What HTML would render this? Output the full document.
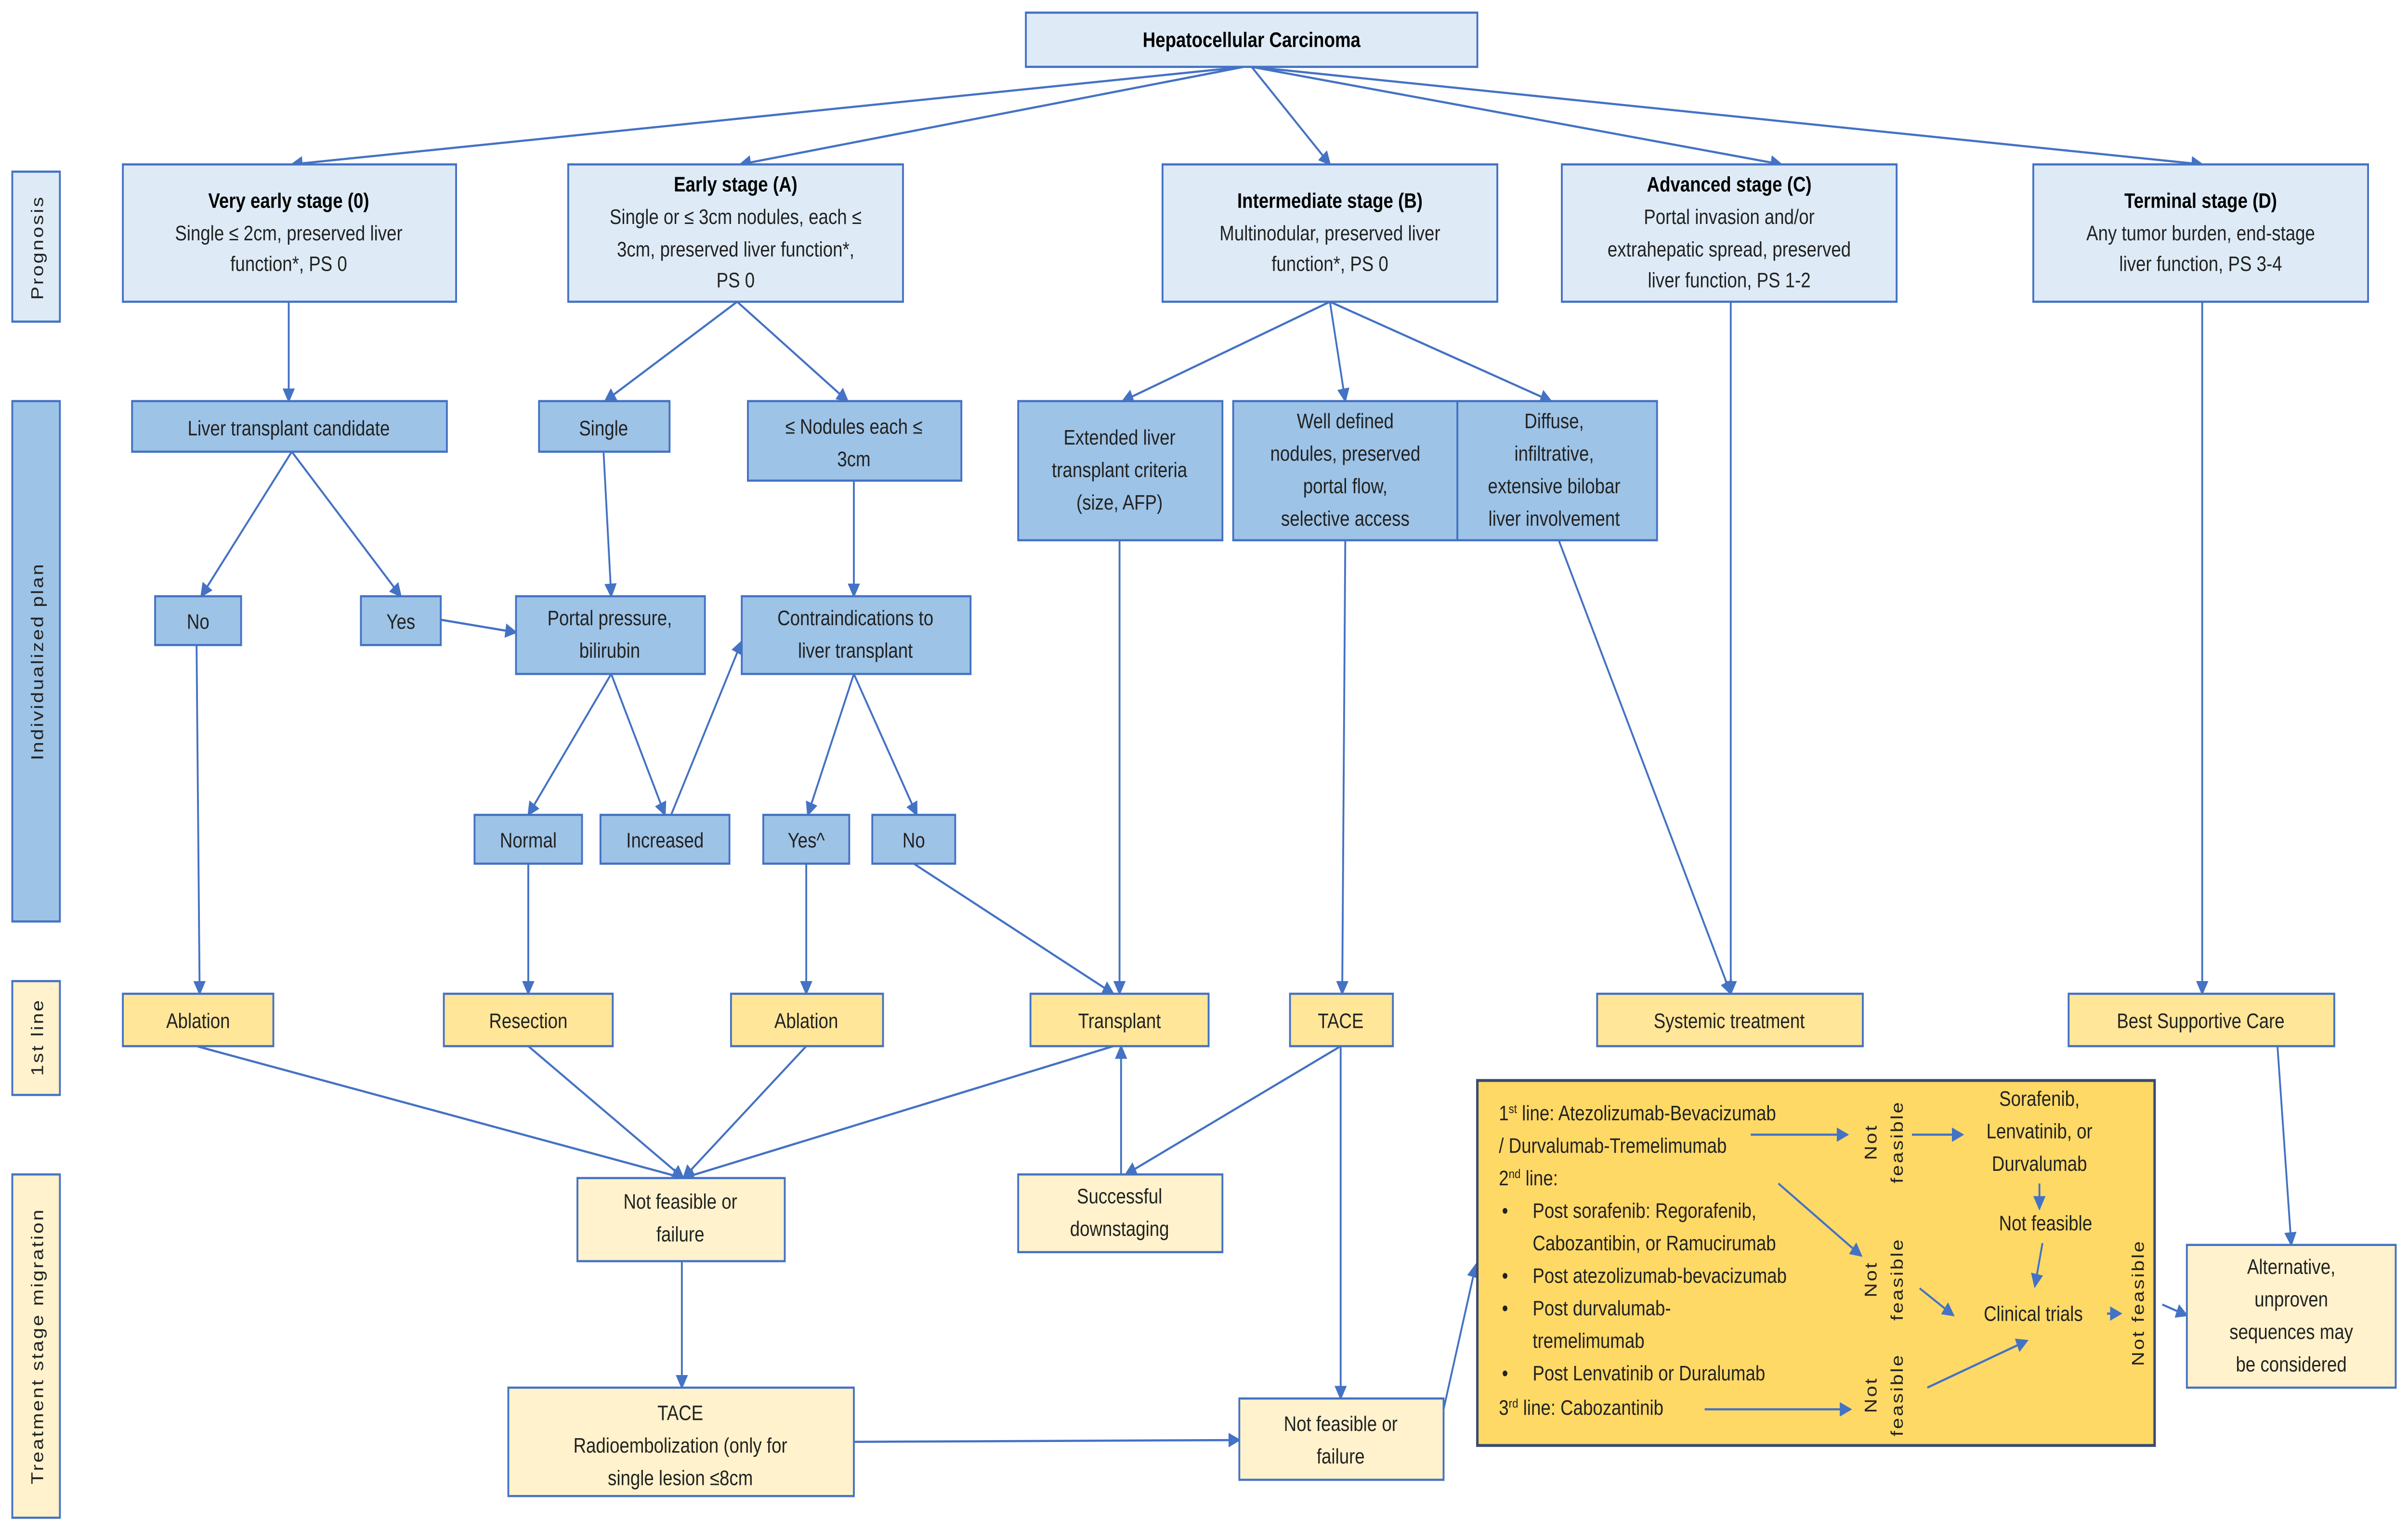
<!DOCTYPE html>
<html><head><meta charset="utf-8"><style>
html,body{margin:0;padding:0;background:#fff;width:100%;height:100%;overflow:hidden;}
svg{display:block;width:100vw;height:100vh;}
text{font-family:"Liberation Sans",sans-serif;font-size:11.5px;fill:#222;}
.b{font-weight:bold;fill:#000;}
.lb{fill:#DEEBF7;stroke:#4472C4;stroke-width:1.2;}
.mb{fill:#9DC3E6;stroke:#4472C4;stroke-width:1.2;}
.ly{fill:#FFF2CC;stroke:#4472C4;stroke-width:1.2;}
.y{fill:#FFE699;stroke:#4472C4;stroke-width:1.2;}
.big{fill:#FFD966;stroke:#3a4a70;stroke-width:1.6;}
line,path.c{stroke:#4472C4;stroke-width:1.2;fill:none;}
.v{font-family:"Liberation Sans",sans-serif;font-size:11px;letter-spacing:1px;}
</style></head><body>
<svg viewBox="0 0 1568 849" preserveAspectRatio="none" xmlns="http://www.w3.org/2000/svg">
<defs><marker id="a" markerWidth="8" markerHeight="8" refX="7" refY="4" orient="auto" markerUnits="userSpaceOnUse"><path d="M0,0 L8,4 L0,8 z" fill="#4472C4"/></marker></defs>

<rect class="lb" x="8" y="95" width="31" height="83"/>
<text class="v" transform="translate(28,137) rotate(-90)" text-anchor="middle">Prognosis</text>
<rect class="mb" x="8" y="222" width="31" height="288"/>
<text class="v" transform="translate(28,366) rotate(-90)" text-anchor="middle">Individualized plan</text>
<rect class="ly" x="8" y="543" width="31" height="63"/>
<text class="v" transform="translate(28,574) rotate(-90)" text-anchor="middle">1st line</text>
<rect class="ly" x="8" y="650" width="31" height="190"/>
<text class="v" transform="translate(28,745) rotate(-90)" text-anchor="middle">Treatment stage migration</text>

<g marker-end="url(#a)">
<line x1="810" y1="37" x2="190" y2="91"/>
<line x1="810" y1="37" x2="482" y2="91"/>
<line x1="815" y1="37" x2="866" y2="91"/>
<line x1="815" y1="37" x2="1160" y2="91"/>
<line x1="815" y1="37" x2="1434" y2="91"/>
<line x1="188" y1="167" x2="188" y2="222"/>
<line x1="190" y1="250" x2="131" y2="330"/>
<line x1="190" y1="250" x2="261" y2="330"/>
<line x1="287" y1="343" x2="336" y2="350"/>
<line x1="128" y1="357" x2="130" y2="550"/>
<line x1="480" y1="167" x2="394" y2="222"/>
<line x1="480" y1="167" x2="552" y2="222"/>
<line x1="393" y1="250" x2="398" y2="330"/>
<line x1="556" y1="266" x2="556" y2="330"/>
<line x1="398" y1="373" x2="344" y2="451"/>
<line x1="398" y1="373" x2="433" y2="451"/>
<line x1="437" y1="451" x2="483" y2="355"/>
<line x1="556" y1="373" x2="526" y2="451"/>
<line x1="556" y1="373" x2="597" y2="451"/>
<line x1="344" y1="478" x2="344" y2="550"/>
<line x1="525" y1="478" x2="525" y2="550"/>
<line x1="595" y1="478" x2="725" y2="550"/>
<line x1="866" y1="167" x2="731" y2="222"/>
<line x1="866" y1="167" x2="876" y2="222"/>
<line x1="866" y1="167" x2="1010" y2="222"/>
<line x1="729" y1="299" x2="729" y2="550"/>
<line x1="876" y1="299" x2="874" y2="550"/>
<line x1="1015" y1="299" x2="1127" y2="550"/>
<line x1="1127" y1="167" x2="1127" y2="550"/>
<line x1="1434" y1="167" x2="1434" y2="550"/>
<line x1="128" y1="579" x2="445" y2="652"/>
<line x1="344" y1="579" x2="445" y2="652"/>
<line x1="525" y1="579" x2="445" y2="652"/>
<line x1="725" y1="579" x2="445" y2="652"/>
<line x1="873" y1="579" x2="733" y2="650"/>
<line x1="730" y1="650" x2="730" y2="579"/>
<line x1="444" y1="698" x2="444" y2="768"/>
<line x1="556" y1="798" x2="807" y2="797"/>
<line x1="873" y1="579" x2="873" y2="774"/>
<line x1="940" y1="780" x2="961" y2="700"/>
<line x1="1483" y1="579" x2="1492" y2="689"/>
<line x1="1408" y1="722" x2="1424" y2="728"/>
</g>

<rect class="lb" x="668" y="7" width="294" height="30"/>
<text class="b" x="815" y="26" text-anchor="middle">Hepatocellular Carcinoma</text>

<rect class="lb" x="80" y="91" width="217" height="76"/>
<text text-anchor="middle" x="188"><tspan class="b" y="115">Very early stage (0)</tspan><tspan x="188" y="133">Single ≤ 2cm, preserved liver</tspan><tspan x="188" y="150">function*, PS 0</tspan></text>
<rect class="lb" x="370" y="91" width="218" height="76"/>
<text text-anchor="middle" x="479"><tspan class="b" y="106">Early stage (A)</tspan><tspan x="479" y="124">Single or ≤ 3cm nodules, each ≤</tspan><tspan x="479" y="142">3cm, preserved liver function*,</tspan><tspan x="479" y="159">PS 0</tspan></text>
<rect class="lb" x="757" y="91" width="218" height="76"/>
<text text-anchor="middle" x="866"><tspan class="b" y="115">Intermediate stage (B)</tspan><tspan x="866" y="133">Multinodular, preserved liver</tspan><tspan x="866" y="150">function*, PS 0</tspan></text>
<rect class="lb" x="1017" y="91" width="218" height="76"/>
<text text-anchor="middle" x="1126"><tspan class="b" y="106">Advanced stage (C)</tspan><tspan x="1126" y="124">Portal invasion and/or</tspan><tspan x="1126" y="142">extrahepatic spread, preserved</tspan><tspan x="1126" y="159">liver function, PS 1-2</tspan></text>
<rect class="lb" x="1324" y="91" width="218" height="76"/>
<text text-anchor="middle" x="1433"><tspan class="b" y="115">Terminal stage (D)</tspan><tspan x="1433" y="133">Any tumor burden, end-stage</tspan><tspan x="1433" y="150">liver function, PS 3-4</tspan></text>

<rect class="mb" x="86" y="222" width="205" height="28"/><text x="188" y="241" text-anchor="middle">Liver transplant candidate</text>
<rect class="mb" x="351" y="222" width="85" height="28"/><text x="393" y="241" text-anchor="middle">Single</text>
<rect class="mb" x="487" y="222" width="139" height="44"/><text text-anchor="middle" x="556"><tspan y="240">≤ Nodules each ≤</tspan><tspan x="556" y="258">3cm</tspan></text>
<rect class="mb" x="663" y="222" width="133" height="77"/><text text-anchor="middle" x="729"><tspan y="246">Extended liver</tspan><tspan x="729" y="264">transplant criteria</tspan><tspan x="729" y="282">(size, AFP)</tspan></text>
<rect class="mb" x="803" y="222" width="146" height="77"/><text text-anchor="middle" x="876"><tspan y="237">Well defined</tspan><tspan x="876" y="255">nodules, preserved</tspan><tspan x="876" y="273">portal flow,</tspan><tspan x="876" y="291">selective access</tspan></text>
<rect class="mb" x="949" y="222" width="130" height="77"/><text text-anchor="middle" x="1012"><tspan y="237">Diffuse,</tspan><tspan x="1012" y="255">infiltrative,</tspan><tspan x="1012" y="273">extensive bilobar</tspan><tspan x="1012" y="291">liver involvement</tspan></text>

<rect class="mb" x="101" y="330" width="56" height="27"/><text x="129" y="348" text-anchor="middle">No</text>
<rect class="mb" x="235" y="330" width="52" height="27"/><text x="261" y="348" text-anchor="middle">Yes</text>
<rect class="mb" x="336" y="330" width="123" height="43"/><text text-anchor="middle" x="397"><tspan y="346">Portal pressure,</tspan><tspan x="397" y="364">bilirubin</tspan></text>
<rect class="mb" x="483" y="330" width="149" height="43"/><text text-anchor="middle" x="557"><tspan y="346">Contraindications to</tspan><tspan x="557" y="364">liver transplant</tspan></text>

<rect class="mb" x="309" y="451" width="70" height="27"/><text x="344" y="469" text-anchor="middle">Normal</text>
<rect class="mb" x="391" y="451" width="84" height="27"/><text x="433" y="469" text-anchor="middle">Increased</text>
<rect class="mb" x="497" y="451" width="56" height="27"/><text x="525" y="469" text-anchor="middle">Yes^</text>
<rect class="mb" x="568" y="451" width="54" height="27"/><text x="595" y="469" text-anchor="middle">No</text>

<rect class="y" x="80" y="550" width="98" height="29"/><text x="129" y="569" text-anchor="middle">Ablation</text>
<rect class="y" x="289" y="550" width="110" height="29"/><text x="344" y="569" text-anchor="middle">Resection</text>
<rect class="y" x="476" y="550" width="99" height="29"/><text x="525" y="569" text-anchor="middle">Ablation</text>
<rect class="y" x="671" y="550" width="116" height="29"/><text x="729" y="569" text-anchor="middle">Transplant</text>
<rect class="y" x="840" y="550" width="67" height="29"/><text x="873" y="569" text-anchor="middle">TACE</text>
<rect class="y" x="1040" y="550" width="173" height="29"/><text x="1126" y="569" text-anchor="middle">Systemic treatment</text>
<rect class="y" x="1347" y="550" width="173" height="29"/><text x="1433" y="569" text-anchor="middle">Best Supportive Care</text>

<rect class="ly" x="376" y="652" width="135" height="46"/><text text-anchor="middle" x="443"><tspan y="669">Not feasible or</tspan><tspan x="443" y="687">failure</tspan></text>
<rect class="ly" x="663" y="650" width="133" height="43"/><text text-anchor="middle" x="729"><tspan y="666">Successful</tspan><tspan x="729" y="684">downstaging</tspan></text>
<rect class="ly" x="331" y="768" width="225" height="60"/><text text-anchor="middle" x="443"><tspan y="786">TACE</tspan><tspan x="443" y="804">Radioembolization (only for</tspan><tspan x="443" y="822">single lesion ≤8cm</tspan></text>
<rect class="ly" x="807" y="774" width="133" height="45"/><text text-anchor="middle" x="873"><tspan y="792">Not feasible or</tspan><tspan x="873" y="810">failure</tspan></text>
<rect class="ly" x="1424" y="689" width="136" height="79"/><text text-anchor="middle" x="1492"><tspan y="705">Alternative,</tspan><tspan x="1492" y="723">unproven</tspan><tspan x="1492" y="741">sequences may</tspan><tspan x="1492" y="759">be considered</tspan></text>

<rect class="big" x="962" y="598" width="441" height="202"/>
<g marker-end="url(#a)">
<line x1="1140" y1="628" x2="1203" y2="628"/>
<line x1="1245" y1="628" x2="1278" y2="628"/>
<line x1="1328" y1="655" x2="1328" y2="669"/>
<line x1="1330" y1="688" x2="1325" y2="712"/>
<line x1="1158" y1="655" x2="1212" y2="695"/>
<line x1="1250" y1="713" x2="1272" y2="728"/>
<line x1="1110" y1="780" x2="1205" y2="780"/>
<line x1="1255" y1="768" x2="1320" y2="742"/>
<line x1="1372" y1="727" x2="1381" y2="727"/>
</g>
<text x="976" y="620">1<tspan font-size="7" dy="-4">st</tspan><tspan dy="4"> line: Atezolizumab-Bevacizumab</tspan></text>
<text x="976" y="638">/ Durvalumab-Tremelimumab</text>
<text x="976" y="656">2<tspan font-size="7" dy="-4">nd</tspan><tspan dy="4"> line:</tspan></text>
<text x="978" y="674">•</text><text x="998" y="674">Post sorafenib: Regorafenib,</text>
<text x="998" y="692">Cabozantibin, or Ramucirumab</text>
<text x="978" y="710">•</text><text x="998" y="710">Post atezolizumab-bevacizumab</text>
<text x="978" y="728">•</text><text x="998" y="728">Post durvalumab-</text>
<text x="998" y="746">tremelimumab</text>
<text x="978" y="764">•</text><text x="998" y="764">Post Lenvatinib or Duralumab</text>
<text x="976" y="783">3<tspan font-size="7" dy="-4">rd</tspan><tspan dy="4"> line: Cabozantinib</tspan></text>
<text class="v" text-anchor="middle" transform="translate(1222,632) rotate(-90)"><tspan x="0" y="0">Not</tspan><tspan x="0" y="17">feasible</tspan></text>
<text class="v" text-anchor="middle" transform="translate(1222,708) rotate(-90)"><tspan x="0" y="0">Not</tspan><tspan x="0" y="17">feasible</tspan></text>
<text class="v" text-anchor="middle" transform="translate(1222,772) rotate(-90)"><tspan x="0" y="0">Not</tspan><tspan x="0" y="17">feasible</tspan></text>
<text class="v" text-anchor="middle" transform="translate(1396,721) rotate(-90)">Not feasible</text>
<text text-anchor="middle" x="1328"><tspan y="612">Sorafenib,</tspan><tspan x="1328" y="630">Lenvatinib, or</tspan><tspan x="1328" y="648">Durvalumab</tspan></text>
<text x="1332" y="681" text-anchor="middle">Not feasible</text>
<text x="1324" y="731" text-anchor="middle">Clinical trials</text>
</svg>
</body></html>
